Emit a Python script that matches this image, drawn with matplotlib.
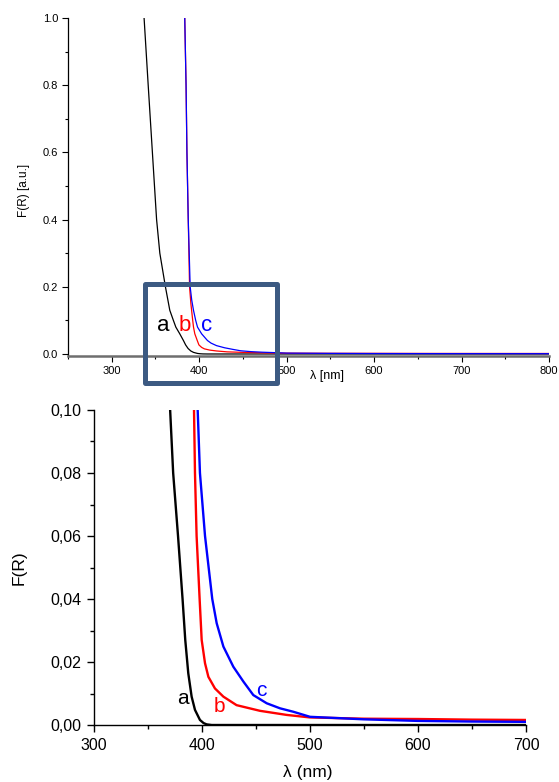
import matplotlib
matplotlib.use("Agg")
import matplotlib.pyplot as plt
from matplotlib.patches import Rectangle
from matplotlib.ticker import MultipleLocator

plt.rcParams['font.family'] = ['Liberation Sans', 'DejaVu Sans']

# ---- data ----
wl_a = [337, 341.7, 346.5, 349.9, 351.3, 355, 361.4, 366.4, 370.5, 373.3, 377.8, 382,
        384.5, 387.3, 390.4, 393.5, 398.1, 401.5, 404.3, 409, 500, 600, 700, 800]
F_a = [1.0, 0.8, 0.6, 0.458, 0.4, 0.3, 0.2, 0.13, 0.10, 0.08, 0.06, 0.04,
       0.027, 0.0164, 0.009, 0.0048, 0.0016, 0.0006, 0.0002, 0.0, 0.0, 0.0, 0.0, 0.0]

wl_b = [383.5, 385, 386, 387.5, 389, 390.5, 392.6, 393.5, 395, 397.8, 399.7, 402.8,
        405.9, 412, 419.8, 432, 453.7, 478.4, 500, 550, 600, 650, 700, 800]
F_b = [1.0, 0.8, 0.6, 0.4, 0.2, 0.15, 0.10, 0.08, 0.06, 0.04, 0.027, 0.0196,
       0.0153, 0.0116, 0.009, 0.0063, 0.0045, 0.0032, 0.0024, 0.002, 0.0019, 0.0017,
       0.0016, 0.0015]

wl_c = [383.5, 385, 386, 387.5, 389.7, 391.5, 393.5, 396, 398.1, 402.8, 409.5, 413.6,
        419.8, 429, 438.3, 447.5, 459.9, 472.2, 484.6, 500, 550, 600, 650, 700, 800]
F_c = [1.0, 0.8, 0.6, 0.4, 0.2, 0.16, 0.13, 0.10, 0.08, 0.06, 0.04, 0.0323,
       0.0249, 0.0185, 0.0138, 0.0095, 0.0069, 0.0053, 0.0042, 0.0026, 0.0018, 0.0013,
       0.0011, 0.001, 0.0009]

series_labels = ['a', 'b', 'c']
series_colors = ['black', 'red', 'blue']

top_xticks = [300, 400, 500, 600, 700, 800]
top_yticks = [0.0, 0.2, 0.4, 0.6, 0.8, 1.0]
top_yticklabels = ['0.0', '0.2', '0.4', '0.6', '0.8', '1.0']

bot_xticks = [300, 400, 500, 600, 700]
bot_yticks = [0.00, 0.02, 0.04, 0.06, 0.08, 0.10]
bot_yticklabels = ['0,00', '0,02', '0,04', '0,06', '0,08', '0,10']

W, H = 559, 782
fig = plt.figure(figsize=(W / 100, H / 100), dpi=100)

# ---------------- top panel ----------------
ax1 = fig.add_axes([68 / W, 1 - 356 / H, 481 / W, 338 / H])
for wl, F, col in zip([wl_a, wl_b, wl_c], [F_a, F_b, F_c], series_colors):
    ax1.plot(wl, F, color=col, lw=0.9, solid_joinstyle='round')
ax1.set_xlim(250, 800)
ax1.set_ylim(-0.006, 1.0)
ax1.spines['top'].set_visible(False)
ax1.spines['right'].set_visible(False)
ax1.spines['left'].set_linewidth(0.9)
ax1.spines['bottom'].set_color('#6e6e6e')
ax1.spines['bottom'].set_linewidth(1.8)
ax1.set_xticks(top_xticks)
ax1.set_yticks(top_yticks)
ax1.set_yticklabels(top_yticklabels)
ax1.xaxis.set_minor_locator(MultipleLocator(50))
ax1.yaxis.set_minor_locator(MultipleLocator(0.1))
ax1.tick_params(which='major', length=4, width=0.8, labelsize=8, direction='out', pad=3)
ax1.tick_params(which='minor', length=2.5, width=0.8, direction='out')
ax1.set_ylabel('F(R) [a.u.]', fontsize=8.5)
ax1.yaxis.set_label_coords(-0.079, 0.49)
ax1.set_xlabel('λ [nm]', fontsize=9)
ax1.xaxis.set_label_coords(0.538, -0.04)
for lab, col, x in zip(series_labels, series_colors, [358.4, 383.5, 408.7]):
    ax1.text(x, 0.069, lab, color=col, fontsize=16, ha='center', va='baseline')

# ---------------- bottom panel ----------------
ax2 = fig.add_axes([94 / W, 1 - 725 / H, 432 / W, 315 / H])
for wl, F, col in zip([wl_a, wl_b, wl_c], [F_a, F_b, F_c], series_colors):
    ax2.plot(wl, F, color=col, lw=1.7, solid_joinstyle='round')
ax2.set_xlim(300, 700)
ax2.set_ylim(0, 0.10)
ax2.spines['top'].set_visible(False)
ax2.spines['right'].set_visible(False)
for s in ['left', 'bottom']:
    ax2.spines[s].set_linewidth(1.0)
ax2.set_xticks(bot_xticks)
ax2.set_yticks(bot_yticks)
ax2.set_yticklabels(bot_yticklabels)
ax2.xaxis.set_minor_locator(MultipleLocator(50))
ax2.yaxis.set_minor_locator(MultipleLocator(0.01))
ax2.tick_params(which='major', length=5, width=1.0, labelsize=11.5, direction='out', pad=4)
ax2.tick_params(which='minor', length=3, width=1.0, direction='out')
ax2.set_ylabel('F(R)', fontsize=12.5)
ax2.yaxis.set_label_coords(-0.157, 0.5)
ax2.set_xlabel('λ (nm)', fontsize=12.5)
ax2.xaxis.set_label_coords(0.495, -0.128)
for lab, col, x, y in zip(series_labels, series_colors, [382.4, 416.3, 454.5],
                          [0.0068, 0.0042, 0.0092]):
    ax2.text(x, y, lab, color=col, fontsize=15, ha='center', va='baseline')

# ---------------- zoom rectangle ----------------
rect = Rectangle((145 / W, 1 - 383 / H), 132 / W, 99.5 / H, transform=fig.transFigure,
                 fill=False, edgecolor='#3c5a82', linewidth=3.6, joinstyle='round',
                 zorder=10)
fig.patches.append(rect)

fig.savefig('out.png', dpi=100)
